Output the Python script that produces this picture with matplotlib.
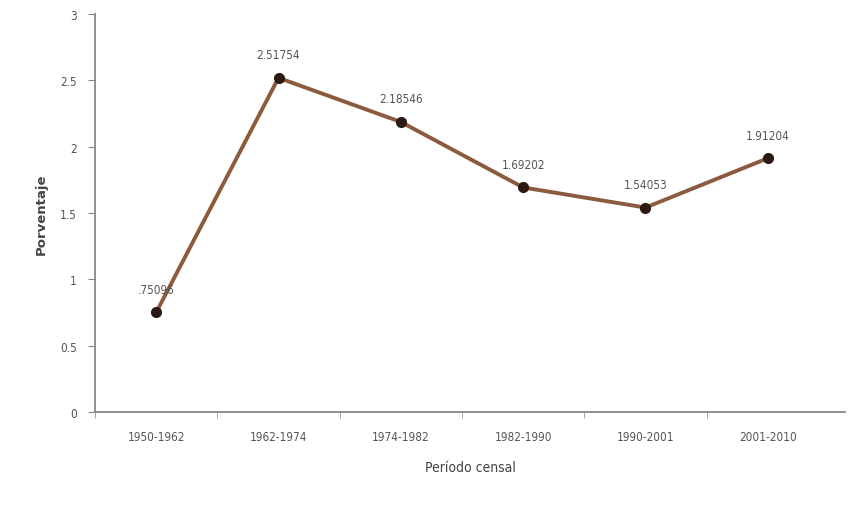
import numpy as np
import matplotlib.pyplot as plt

periodos = ['1950-1962', '1962-1974', '1974-1982', '1982-1990', '1990-2001', '2001-2010']
tasas = [0.75096, 2.51754, 2.18546, 1.69202, 1.54053, 1.91204]
etiquetas = ['.75096', '2.51754', '2.18546', '1.69202', '1.54053', '1.91204']

plt.rcParams['font.family'] = ['DejaVu Sans']
plt.rcParams['font.stretch'] = 'condensed'

fig = plt.figure(figsize=(8.56, 5.10), dpi=100)
ax = fig.add_axes([0.111, 0.19, 0.876, 0.781])

x = np.arange(len(periodos))
ax.plot(x, tasas, color='#8c5a3c', lw=2.8, zorder=2)
ax.plot(x, tasas, 'o', color='#2a1a12', ms=7, zorder=3)

for xi, yi, lab in zip(x, tasas, etiquetas):
    ax.annotate(lab, (xi, yi), xytext=(0, 12), textcoords='offset points',
                ha='center', va='bottom', fontsize=8.5, color='#555555')

ax.set_ylim(0, 3)
ax.set_yticks([0, 0.5, 1, 1.5, 2, 2.5, 3])
ax.set_yticklabels(['0', '0.5', '1', '1.5', '2', '2.5', '3'])
ax.set_xlim(-0.5, 5.63)
ax.set_xticks(x)
ax.set_xticklabels(periodos)
ax.set_xticks(np.arange(-0.5, 5, 1), minor=True)

ax.tick_params(axis='x', which='major', length=0, pad=13, labelsize=8.5, labelcolor='#555555')
ax.tick_params(axis='x', which='minor', length=4, color='#999999')
ax.tick_params(axis='y', length=5, color='#888888', labelsize=8.5, labelcolor='#555555', pad=8)

for s in ['top', 'right']:
    ax.spines[s].set_visible(False)
ax.spines['left'].set_color('#888888')
ax.spines['bottom'].set_color('#888888')
ax.spines['left'].set_linewidth(1.3)
ax.spines['bottom'].set_linewidth(1.3)

ax.set_xlabel('Período censal', fontsize=10, color='#444444', labelpad=12)
ax.set_ylabel('Porventaje', fontsize=9.5, fontweight='bold', fontstretch='normal',
              color='#444444', labelpad=9)

fig.savefig('out.png', dpi=100)
